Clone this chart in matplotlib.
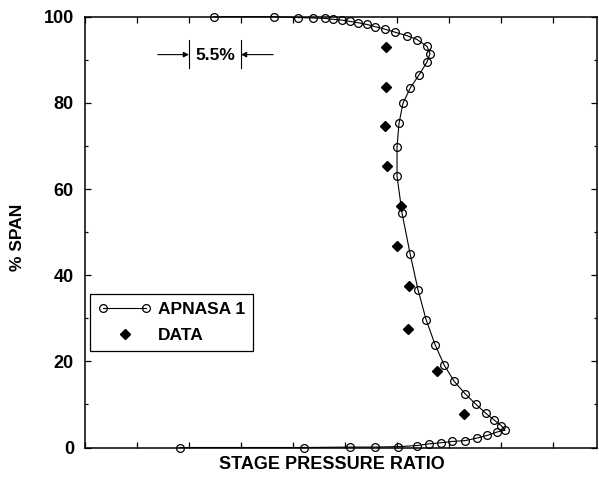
import matplotlib
matplotlib.use("Agg")
import matplotlib.pyplot as plt
from matplotlib.legend_handler import HandlerLine2D
from matplotlib.ticker import MultipleLocator, NullFormatter

plt.rcParams['font.family'] = ['Liberation Sans', 'DejaVu Sans']

# APNASA 1 curve (x: relative stage pressure ratio, % units; y: % span)
apnasa_x = [13.64, 19.99, 22.53, 24.12, 25.38, 26.23, 27.18, 28.03, 28.88, 29.83,
            30.67, 31.73, 32.79, 34.06, 35.12, 36.17, 36.49, 36.17, 35.33, 34.38,
            33.63, 33.21, 33.00, 33.00, 33.53, 34.38, 35.22, 36.07, 37.02, 37.97,
            39.03, 40.19, 41.36, 42.41, 43.26, 44.00, 44.42, 43.58, 42.52, 41.46,
            40.19, 38.82, 37.65, 36.38, 35.12, 33.11, 30.67, 28.03, 23.16, 10.05]
apnasa_y = [100.0, 100.0, 99.8, 99.7, 99.6, 99.4, 99.2, 98.9, 98.6, 98.2,
            97.7, 97.1, 96.4, 95.6, 94.7, 93.1, 91.4, 89.5, 86.5, 83.4,
            79.9, 75.3, 69.8, 63.0, 54.4, 45.0, 36.6, 29.7, 23.9, 19.2,
            15.4, 12.5, 10.0, 7.9, 6.4, 5.1, 4.0, 3.6, 2.8, 2.2,
            1.6, 1.4, 1.1, 0.85, 0.45, 0.2, 0.1, 0.1, 0.0, 0.0]

# Measured data
data_x = [31.84, 31.84, 31.73, 31.94, 33.42, 33.00, 34.27, 34.16, 37.23, 40.09]
data_y = [93.0, 83.7, 74.7, 65.4, 56.0, 46.7, 37.4, 27.6, 17.7, 7.8]

scale_pct = 5.5
y_ticks = [0, 20, 40, 60, 80, 100]


class RightMarkerHandler(HandlerLine2D):
    def get_xdata(self, legend, xdescent, ydescent, width, height, fontsize):
        xdata = [-xdescent, -xdescent + width]
        return xdata, [-xdescent + width]


fig = plt.figure(figsize=(5.99, 4.87), dpi=100)
ax = fig.add_axes([0.1419, 0.0811, 0.8548, 0.8846])

line, = ax.plot(apnasa_x, apnasa_y, color='black', lw=0.8, marker='o',
                markersize=5.6, markerfacecolor='none', markeredgecolor='black',
                markeredgewidth=0.9, clip_on=False, label='APNASA 1', zorder=3)
pts, = ax.plot(data_x, data_y, linestyle='none', marker='D', markersize=5.4,
               color='black', clip_on=False, label='DATA', zorder=4)

ax.set_xlim(0, 54.15)
ax.set_ylim(0, 100)
ax.xaxis.set_major_locator(MultipleLocator(scale_pct))
ax.xaxis.set_major_formatter(NullFormatter())
ax.set_yticks(y_ticks)
ax.yaxis.set_minor_locator(MultipleLocator(10))
ax.tick_params(which='both', direction='in', top=True, right=True,
               width=0.9, colors='black')
ax.tick_params(which='major', length=4, labelsize=13, pad=8)
ax.tick_params(which='minor', length=2.5)
for lab in ax.get_yticklabels():
    lab.set_fontweight('bold')
for sp in ax.spines.values():
    sp.set_linewidth(1.1)

ax.set_xlabel('STAGE PRESSURE RATIO', fontsize=13, fontweight='bold')
ax.xaxis.set_label_coords(0.483, -0.02)
ax.set_ylabel('% SPAN', fontsize=12.5, fontweight='bold')
ax.yaxis.set_label_coords(-0.117, 0.487)

# 5.5% scale indicator
x0, x1 = 2 * scale_pct, 3 * scale_pct
ax.plot([x0, x0], [88.1, 94.6], color='black', lw=0.8)
ax.plot([x1, x1], [88.1, 94.6], color='black', lw=0.8)
ax.annotate('', xy=(x0, 91.2), xytext=(x0 - 3.3, 91.2),
            arrowprops=dict(arrowstyle='-|>', color='black', lw=0.8,
                            mutation_scale=8, shrinkA=0, shrinkB=0))
ax.annotate('', xy=(x1, 91.2), xytext=(x1 + 3.4, 91.2),
            arrowprops=dict(arrowstyle='-|>', color='black', lw=0.8,
                            mutation_scale=8, shrinkA=0, shrinkB=0))
ax.text((x0 + x1) / 2, 91.0, f'{scale_pct}%', ha='center', va='center',
        fontsize=12.5, fontweight='bold')

leg = ax.legend(handles=[line, pts], loc='upper left',
                bbox_to_anchor=(0.0098, 0.356), borderaxespad=0,
                numpoints=2, handlelength=3.1, handletextpad=0.35,
                fancybox=False, framealpha=1, edgecolor='black',
                prop={'size': 12.5, 'weight': 'bold'},
                borderpad=0.45, labelspacing=0.62,
                handler_map={pts: RightMarkerHandler(numpoints=1)})
leg.get_frame().set_linewidth(0.9)

fig.savefig('out.png', dpi=100)
